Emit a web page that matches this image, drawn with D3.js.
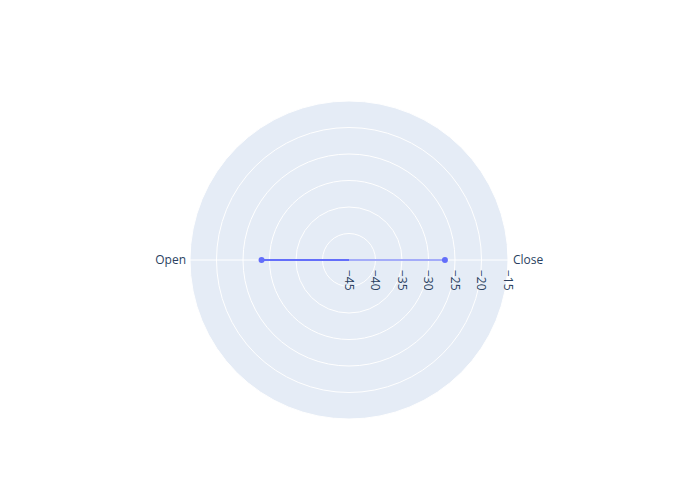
<!DOCTYPE html>
<html>
<head>
<meta charset="utf-8">
<script src="https://cdn.jsdelivr.net/npm/d3@7"></script>
<style>
  html, body { margin: 0; padding: 0; background: #fff; }
  svg { display: block; }
</style>
</head>
<body>
<svg id="chart" width="700" height="500"></svg>
<script>
const categories = ["Open", "Close"];
const angles = [180, 0];
const values = [-28.5, -26.9];
const radialTicks = [-45, -40, -35, -30, -25, -20, -15];
const radialRange = [-45, -15];

const W = 700, H = 500;
const cx = 349, cy = 260, R = 159;
const fontFamily = '"Open Sans", verdana, arial, sans-serif';
const textColor = "#2a3f5f";
const bg = "#e5ecf6";
const trace = "#636efa";
const traceLight = "#a4acf9";

const svg = d3.select("#chart");
const g = svg.append("g").attr("transform", `translate(${cx},${cy})`);

const r = d3.scaleLinear().domain(radialRange).range([0, R]);
const ang = d3.scaleOrdinal().domain(categories).range(angles);
const toXY = (cat, v) => {
  const a = ang(cat) * Math.PI / 180;
  return [r(v) * Math.cos(a), -r(v) * Math.sin(a)];
};

// background disc
g.append("circle").attr("r", r(radialRange[1])).attr("fill", bg);

// radial grid circles
g.selectAll("circle.grid")
  .data(radialTicks.filter(t => t > radialRange[0]))
  .join("circle")
  .attr("class", "grid")
  .attr("r", d => r(d))
  .attr("fill", "none")
  .attr("stroke", "#fff")
  .attr("stroke-width", 1);

// angular grid lines
g.selectAll("line.agrid")
  .data(categories)
  .join("line")
  .attr("class", "agrid")
  .attr("x1", 0).attr("y1", 0)
  .attr("x2", d => toXY(d, radialRange[1])[0])
  .attr("y2", d => toXY(d, radialRange[1])[1])
  .attr("stroke", "#fff")
  .attr("stroke-width", 1);

// angular axis labels
g.selectAll("text.alabel")
  .data(categories)
  .join("text")
  .attr("class", "alabel")
  .attr("x", d => toXY(d, radialRange[1])[0] + (ang(d) === 0 ? 5 : -4))
  .attr("y", d => toXY(d, radialRange[1])[1])
  .attr("dy", "0.35em")
  .attr("text-anchor", d => ang(d) === 0 ? "start" : "end")
  .attr("font-family", fontFamily)
  .attr("font-size", 12)
  .attr("fill", textColor)
  .text(d => d);

// radial tick labels (rotated)
g.selectAll("text.rlabel")
  .data(radialTicks)
  .join("text")
  .attr("class", "rlabel")
  .attr("transform", d => `translate(${r(d)},10) rotate(90)`)
  .attr("text-anchor", "start")
  .attr("dy", "0.35em")
  .attr("font-family", fontFamily)
  .attr("font-size", 12)
  .attr("fill", textColor)
  .text(d => d < 0 ? "\u2212" + Math.abs(d) : String(d));

// data line: segments through the origin
const pts = categories.map((c, i) => toXY(c, values[i]));
const origin = [r(radialRange[0]), 0];
g.append("line")
  .attr("x1", pts[0][0]).attr("y1", pts[0][1])
  .attr("x2", origin[0]).attr("y2", origin[1])
  .attr("stroke", trace).attr("stroke-width", 2);
g.append("line")
  .attr("x1", origin[0]).attr("y1", origin[1])
  .attr("x2", pts[1][0]).attr("y2", pts[1][1])
  .attr("stroke", traceLight).attr("stroke-width", 2);

g.selectAll("circle.pt")
  .data(categories)
  .join("circle")
  .attr("class", "pt")
  .attr("cx", (d, i) => toXY(d, values[i])[0])
  .attr("cy", (d, i) => toXY(d, values[i])[1])
  .attr("r", 3)
  .attr("fill", trace);
</script>
</body>
</html>
